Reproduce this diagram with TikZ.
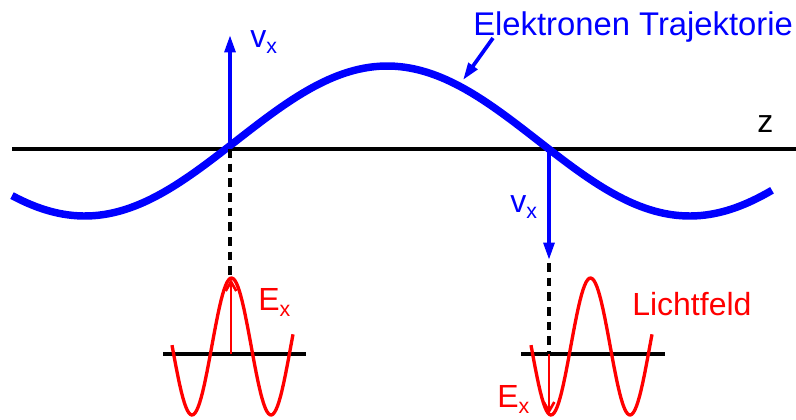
\documentclass[tikz,border=0pt]{standalone}
\usepackage{fontspec}
\setmainfont{Liberation Sans}
\usetikzlibrary{arrows.meta}

\newcommand{\lowsub}[1]{\raisebox{-5pt}{\fontsize{16}{18}\selectfont #1}}

\begin{document}
\begin{tikzpicture}[
    x=0.75pt, y=-0.75pt,
    bluetext/.style={
        text=blue,
        inner sep=0pt,
        anchor=base west,
        font=\fontsize{24}{28}\selectfont
    },
    redtext/.style={
        text=red,
        inner sep=0pt,
        anchor=base west,
        font=\fontsize{24}{28}\selectfont
    },
    blacktext/.style={
        text=black,
        inner sep=0pt,
        anchor=base west,
        font=\fontsize{24}{28}\selectfont
    },
    axisline/.style={black, line width=2.8pt},
    trajectory/.style={blue, line width=5.6pt},
    lightwave/.style={red, line width=2.5pt},
    bluearrow/.style={blue, line width=2.8pt, -{Triangle[length=13pt,width=8pt]}},
    redarrow/.style={red, line width=2pt, -{Straight Barb[length=7pt,width=8pt]}},
    dropline/.style={black, line width=2.4pt, dash pattern=on 6.5pt off 4.5pt}
]
\useasboundingbox (0,0) rectangle (796,419);

% points on the z axis and ends of the arrows
\coordinate (zstart) at (12,149);
\coordinate (zend) at (796,149);
\coordinate (crossup) at (230,149);
\coordinate (crossdown) at (549,149);
\coordinate (vxuptip) at (230,35);
\coordinate (vxdowntip) at (549,260);
\coordinate (dropupend) at (230,277);
\coordinate (dropdowntop) at (549,263);
\coordinate (dropdownend) at (549,354);
\coordinate (trajtip) at (463,80);
\coordinate (trajtail) at (493,38);

% light field axes and arrows
\coordinate (leftaxisa) at (163,354);
\coordinate (leftaxisb) at (306,354);
\coordinate (rightaxisa) at (521,354);
\coordinate (rightaxisb) at (665,354);
\coordinate (exupbase) at (231,354);
\coordinate (exuptip) at (231,279);
\coordinate (exdownbase) at (549,354);
\coordinate (exdowntip) at (549,414);

% labels
\node (traj) [bluetext, font=\fontsize{24.6}{28}\selectfont] at (473,35) {Elektronen Trajektorie};
\node (zlabel) [blacktext] at (757,132) {z};
\node (vxup) [bluetext] at (250,47) {v\lowsub{x}};
\node (vxdown) [bluetext] at (510,212) {v\lowsub{x}};
\node (exup) [redtext] at (258,310) {E\lowsub{x}};
\node (exdown) [redtext] at (497,407) {E\lowsub{x}};
\node (lichtfeld) [redtext] at (632,315) {Lichtfeld};

% electron trajectory
\draw [axisline] (zstart) -- (zend);
\draw [trajectory] plot[domain=12:772, samples=150] (\x, {141-75*sin((\x-236)*0.59504)});

% velocity arrows and projections
\draw [bluearrow] (crossup) -- (vxuptip);
\draw [bluearrow] (crossdown) -- (vxdowntip);
\draw [bluearrow] (trajtail) -- (trajtip);
\draw [dropline] (crossup) -- (dropupend);
\draw [dropline] (dropdowntop) -- (dropdownend);

% light field
\draw [axisline] (leftaxisa) -- (leftaxisb);
\draw [axisline] (rightaxisa) -- (rightaxisb);
\draw [lightwave] plot[domain=172:293, samples=80] (\x, {346.5+68.5*cos((\x-192)*4.557)});
\draw [lightwave] plot[domain=531:652, samples=80] (\x, {346.5+68.5*cos((\x-551)*4.557)});
\draw [redarrow] (exupbase) -- (exuptip);
\draw [redarrow] (exdownbase) -- (exdowntip);
\end{tikzpicture}
\end{document}
